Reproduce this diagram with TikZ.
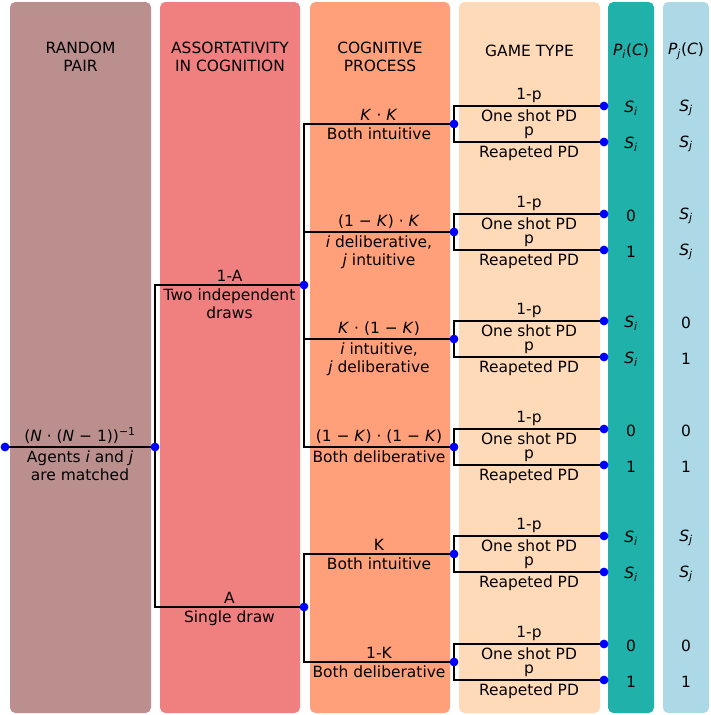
\documentclass[tikz,border=0pt]{standalone}
\usepackage{fontspec}
\setmainfont{DejaVu Sans}
\usetikzlibrary{positioning}
\definecolor{pairbg}{RGB}{188,143,143}
\definecolor{assortbg}{RGB}{240,128,128}
\definecolor{cognbg}{RGB}{255,160,122}
\definecolor{gamebg}{RGB}{255,218,185}
\definecolor{picbg}{RGB}{32,178,170}
\definecolor{pjcbg}{RGB}{173,216,230}
\newcommand{\Si}{\textit{S}\textsubscript{\textit{i}}}
\newcommand{\Sj}{\textit{S}\textsubscript{\textit{j}}}
\newcommand{\Kk}{\textit{K}}

\begin{document}
\begin{tikzpicture}[x=0.75pt,y=-0.75pt,
  lab/.style={inner sep=1.5pt,align=center,font=\fontsize{11.6}{13.5}\selectfont},
  edge/.style={line width=2pt},
  col/.style={rounded corners=4pt}]
\useasboundingbox (0,0) rectangle (711,715);
% columns
\fill[col,pairbg] (10,2) rectangle (151,713);
\fill[col,assortbg] (160,2) rectangle (300,713);
\fill[col,cognbg] (310,2) rectangle (450,713);
\fill[col,gamebg] (459,2) rectangle (600,713);
\fill[col,picbg] (608,2) rectangle (654,713);
\fill[col,pjcbg] (663,2) rectangle (709,713);
\node[lab] (hpair) at (80.5,57) {RANDOM\\PAIR};
\node[lab] (hassort) at (230,57) {ASSORTATIVITY\\IN COGNITION};
\node[lab] (hcogn) at (380,57) {COGNITIVE\\PROCESS};
\node[lab] (hgame) at (529.5,51) {GAME TYPE};
\node[lab] (hpic) at (631,51) {\textit{P}\textsubscript{\textit{i}}(\textit{C})};
\node[lab] (hpjc) at (686,51) {\textit{P}\textsubscript{\textit{j}}(\textit{C})};
% tree points
\coordinate (r) at (5,447);
\coordinate (a) at (155,447);
\coordinate (a1) at (304,285);
\coordinate (a2) at (304,607);
\coordinate (c1) at (454,124);
\coordinate (c2) at (454,232);
\coordinate (c3) at (454,339);
\coordinate (c4) at (454,447);
\coordinate (c5) at (454,554);
\coordinate (c6) at (454,662);
\draw[edge] (r) -- node[lab,above] {(\textit{N} · (\textit{N} − 1))\textsuperscript{−1}} node[lab,below] {Agents \textit{i} and \textit{j}\\are matched} (a);
\draw[edge] (a) |- node[pos=0.75,lab,above] {1-A} node[pos=0.75,lab,below] {Two independent\\draws} (a1);
\draw[edge] (a) |- node[pos=0.75,lab,above] {A} node[pos=0.75,lab,below] {Single draw} (a2);
\draw[edge] (a1) |- node[pos=0.75,lab,above] {\Kk{} · \Kk} node[pos=0.75,lab,below] {Both intuitive} (c1);
\draw[edge] (a1) |- node[pos=0.75,lab,above] {(1 − \Kk) · \Kk} node[pos=0.75,lab,below] {\textit{i} deliberative,\\\textit{j} intuitive} (c2);
\draw[edge] (a1) |- node[pos=0.75,lab,above] {\Kk{} · (1 − \Kk)} node[pos=0.75,lab,below] {\textit{i} intuitive,\\\textit{j} deliberative} (c3);
\draw[edge] (a1) |- node[pos=0.75,lab,above] {(1 − \Kk) · (1 − \Kk)} node[pos=0.75,lab,below] {Both deliberative} (c4);
\draw[edge] (a2) |- node[pos=0.75,lab,above] {K} node[pos=0.75,lab,below] {Both intuitive} (c5);
\draw[edge] (a2) |- node[pos=0.75,lab,above] {1-K} node[pos=0.75,lab,below] {Both deliberative} (c6);
% game type branches and payoffs
\foreach \n/\iu/\ju/\id/\jd in {c1/\Si/\Sj/\Si/\Sj, c2/0/\Sj/1/\Sj, c3/\Si/0/\Si/1,
    c4/0/0/1/1, c5/\Si/\Sj/\Si/\Sj, c6/0/0/1/1} {
  \path (\n) ++(150,-18) coordinate (\n-u) ++(0,36) coordinate (\n-d);
  \draw[edge] (\n) |- node[pos=0.75,lab,above] {1-p} node[pos=0.75,lab,below] {One shot PD} (\n-u);
  \draw[edge] (\n) |- node[pos=0.75,lab,above] {p} node[pos=0.75,lab,below] {Reapeted PD} (\n-d);
  \path (\n-u) ++(27,2) node[lab] (\n-ui) {\iu} ++(55,0) node[lab] (\n-uj) {\ju};
  \path (\n-d) ++(27,2) node[lab] (\n-di) {\id} ++(55,0) node[lab] (\n-dj) {\jd};
  \fill[blue] (\n-u) circle (3.3pt) (\n-d) circle (3.3pt) (\n) circle (3.3pt);
}
\foreach \p in {r,a,a1,a2}
  \fill[blue] (\p) circle (3.3pt);
\end{tikzpicture}
\end{document}
